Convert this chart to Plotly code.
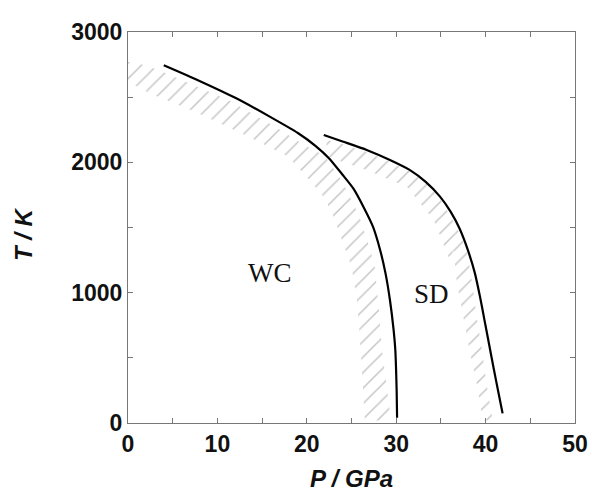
import plotly.graph_objects as go

# Phase boundary curves (P in GPa, T in K)
wc_P = [4.0, 8.0, 12.0, 16.0, 19.0, 21.0, 22.5, 24.0, 25.2, 26.4, 27.4, 28.2, 28.8, 29.3, 29.7, 29.9, 30.05, 30.1]
wc_T = [2745, 2625, 2495, 2345, 2225, 2125, 2030, 1905, 1800, 1650, 1506, 1328, 1150, 944, 720, 560, 250, 40]

sd_P = [21.9, 24.0, 26.7, 29.3, 31.5, 33.3, 34.9, 36.1, 37.1, 38.0, 38.8, 39.4, 39.9, 40.4, 40.9, 41.4, 41.9]
sd_T = [2210, 2160, 2095, 2018, 1942, 1850, 1737, 1620, 1490, 1330, 1150, 960, 780, 600, 420, 245, 74]

# Hatched uncertainty bands (closed polygons)
wc_band_P = [0.0, 1.7, 3.4, 7.5, 11.2, 14.5, 16.8, 19.5, 22.0, 24.0, 25.8, 27.0, 27.6, 28.1, 28.4, 29.0, 29.4,
             26.5, 26.2, 25.9, 25.6, 25.0, 23.0, 22.0, 20.3, 17.9, 13.1, 7.5, 2.4, 0.0]
wc_band_T = [2770, 2748, 2709, 2590, 2479, 2350, 2260, 2140, 2050, 1850, 1600, 1350, 1199, 850, 560, 250, 20,
             20, 400, 688, 950, 1199, 1583, 1724, 1865, 2044, 2210, 2389, 2530, 2620]

sd_band_P = [22.2, 24.5, 26.7, 29.3, 31.5, 33.5, 34.9, 36.8, 37.9, 38.5, 39.0, 39.6, 40.1, 40.7, 40.8,
             39.7, 39.0, 38.2, 37.5, 36.8, 36.4, 36.0, 34.2, 31.2, 26.7, 22.2]
sd_band_T = [2175, 2130, 2080, 2005, 1930, 1830, 1720, 1500, 1328, 1070, 816, 560, 304, 74, 20,
             20, 304, 560, 816, 1070, 1328, 1251, 1558, 1813, 1942, 2044]

labels = ["WC", "SD"]
label_P = [15.9, 33.97]
label_T = [1151, 990]

x_ticks = [0, 10, 20, 30, 40, 50]
y_ticks = [0, 1000, 2000, 3000]

fig = go.Figure()

hatch = dict(shape="/", fgcolor="#8e8e8e", bgcolor="rgba(0,0,0,0)", size=11, solidity=0.14)
for bp, bt in [(wc_band_P, wc_band_T), (sd_band_P, sd_band_T)]:
    fig.add_trace(go.Scatter(x=bp, y=bt, mode="lines", fill="toself",
                             fillcolor="rgba(0,0,0,0)", fillpattern=hatch,
                             line=dict(width=0, color="rgba(0,0,0,0)"),
                             hoverinfo="skip", showlegend=False))

for cp, ct in [(wc_P, wc_T), (sd_P, sd_T)]:
    fig.add_trace(go.Scatter(x=cp, y=ct, mode="lines",
                             line=dict(color="black", width=2.2, shape="spline", smoothing=0.6),
                             showlegend=False))

for lab, lp, lt in zip(labels, label_P, label_T):
    fig.add_annotation(x=lp, y=lt, text=lab, showarrow=False,
                       font=dict(family="Liberation Serif", size=27, color="#111"))

# Axis titles
fig.add_annotation(x=0.501, y=-0.141, xref="paper", yref="paper", yanchor="middle", showarrow=False,
                   text="<b><i>P / GPa</i></b>",
                   font=dict(family="Liberation Sans", size=24, color="#111"))
fig.add_annotation(x=-0.235, y=0.483, xref="paper", yref="paper", xanchor="center", yanchor="middle",
                   showarrow=False, text="<b><i>T / K</i></b>", textangle=-90,
                   font=dict(family="Liberation Sans", size=24, color="#111"))

axis_common = dict(showline=True, linecolor="#777", linewidth=1, mirror="ticks",
                   ticks="inside", ticklen=5, tickcolor="#777", tickwidth=1,
                   showgrid=False, zeroline=False, automargin=False,
                   tickfont=dict(family="Liberation Sans", size=23, color="#111", weight="bold"))

fig.update_xaxes(range=[0, 50], tickvals=x_ticks, ticktext=[str(v) for v in x_ticks],
                 minor=dict(dtick=5, ticks="inside", ticklen=5, tickcolor="#777"),
                 **axis_common)
fig.update_yaxes(range=[0, 3000], tickvals=y_ticks, ticktext=[str(v) for v in y_ticks],
                 minor=dict(dtick=500, ticks="inside", ticklen=5, tickcolor="#777"),
                 **axis_common)

fig.update_layout(width=592, height=498, margin=dict(l=128, r=17, t=32, b=75),
                  plot_bgcolor="white", paper_bgcolor="white")

# remove the default 8px page margin so the figure fills the window exactly
fig.write_html("out.html", config={"displayModeBar": False},
               post_script="document.body.style.margin='0';document.body.style.overflow='hidden';")
